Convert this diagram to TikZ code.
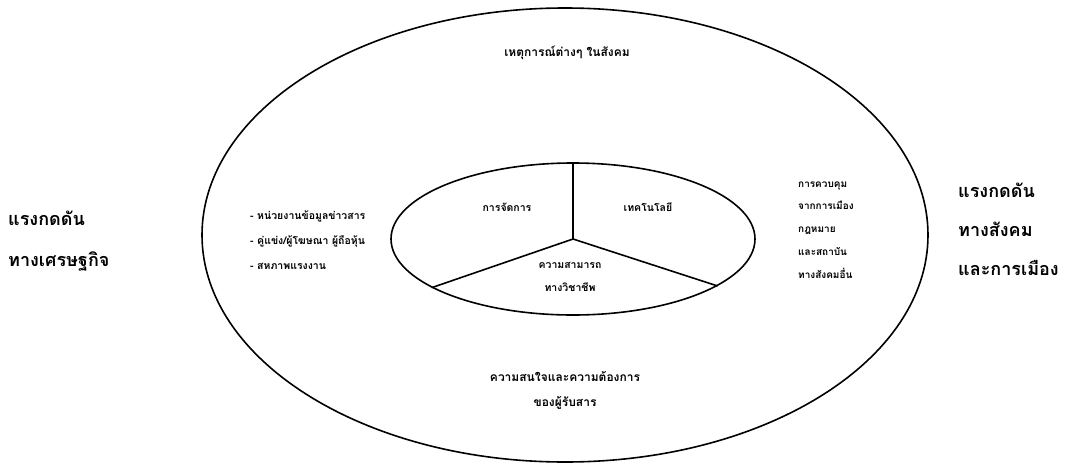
\documentclass[tikz,border=0pt]{standalone}
\usepackage{fontspec}
\usepackage{tikz}
\usetikzlibrary{positioning,shapes.geometric,calc}
\newfontfamily\thaifont[Script=Thai]{Loma}
\tikzset{
  ring/.style={draw,ellipse,line width=1.6pt,inner sep=0pt},
  split/.style={line width=1.6pt},
  small/.style={font={\thaifont\bfseries\fontsize{10.5}{25}\selectfont},inner sep=0pt},
  wide/.style={font={\thaifont\bfseries\fontsize{12}{25}\selectfont}},
  side/.style={font={\thaifont\bfseries\fontsize{18}{41}\selectfont},inner sep=0pt,align=left,anchor=west},
}

\begin{document}
\begin{tikzpicture}[x=1pt,y=-1pt]
\useasboundingbox (0,0) rectangle (1069,469);
\node[ring, minimum width=726pt, minimum height=454pt] (outer) at (565,235) {};
\node[ring, minimum width=364pt, minimum height=152pt] (inner) at (573,239) {};
\draw[split] (inner.center) -- (inner.north);
\draw[split] (inner.center) -- (inner.199);
\draw[split] (inner.center) -- (inner.-18);
% inner parts
\node[small] (mgmt) at (507,207) {การจัดการ};
\node[small] (tech) at (648,207) {เทคโนโลยี};
\node[small, align=center, font={\thaifont\bfseries\fontsize{10.5}{23}\selectfont}] (skill) at (570,277) {ความสามารถ\\ทางวิชาชีพ};
% outer ring
\node[small, wide] (events) at (567,53) {เหตุการณ์ต่างๆ ในสังคม};
\node[small, align=left, anchor=west] (sources) at (250,240) {- หน่วยงานข้อมูลข่าวสาร\\- คู่แข่ง/ผู้โฆษณา ผู้ถือหุ้น\\- สหภาพแรงงาน};
\node[small, align=left, anchor=west, font={\thaifont\bfseries\fontsize{10}{22.8}\selectfont}] (control) at (798,230) {การควบคุม\\จากการเมือง\\กฎหมาย\\และสถาบัน\\ทางสังคมอื่น};
\node[small, wide, align=center] (audience) at (565,390) {ความสนใจและความต้องการ\\ของผู้รับสาร};
% outside
\node[side] (econ) at (8,241) {แรงกดดัน\\ทางเศรษฐกิจ};
\node[side, font={\thaifont\bfseries\fontsize{18}{39}\selectfont}] (social) at (958,229) {แรงกดดัน\\ทางสังคม\\และการเมือง};
\end{tikzpicture}
\end{document}
